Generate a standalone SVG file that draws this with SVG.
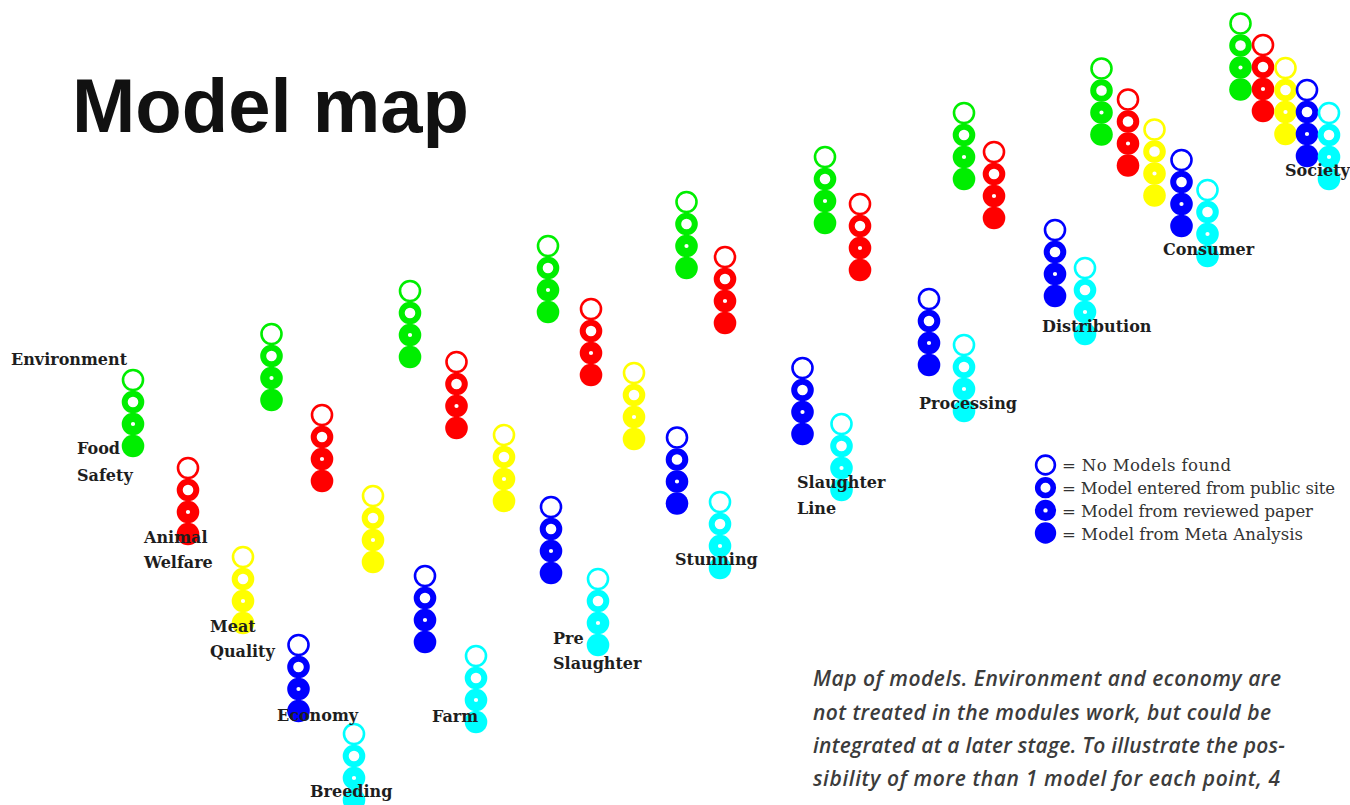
<svg xmlns="http://www.w3.org/2000/svg" xmlns:xlink="http://www.w3.org/1999/xlink" width="1350" height="805" viewBox="0 0 1350 805">
<style>
.lbl{font-family:"DejaVu Serif","Liberation Serif",serif;font-weight:bold;font-size:16px;fill:#1e1e1e}
.leg{font-family:"DejaVu Serif","Liberation Serif",serif;font-size:16.5px;fill:#333}
.title{font-family:"Liberation Sans",Arial,sans-serif;font-weight:bold;font-size:76px;fill:#111}
.cap{font-family:"Open Sans","Liberation Sans",sans-serif;font-style:italic;font-weight:600;font-size:21px;fill:#3c3c3c}
.g{color:#00ee00}.r{color:#ff0000}.y{color:#ffff00}.b{color:#0000ff}.c{color:#00ffff}
</style>
<defs>
<g id="col">
<circle cx="0" cy="0" r="10" fill="none" stroke="currentColor" stroke-width="2.6"/>
<circle cx="0" cy="22" r="8.3" fill="none" stroke="currentColor" stroke-width="6"/>
<circle cx="0" cy="44" r="6.7" fill="none" stroke="currentColor" stroke-width="9.2"/>
<circle cx="0" cy="66" r="11.3" fill="currentColor"/>
</g>
</defs>
<rect width="1350" height="805" fill="#fff"/>
<text class="title" x="72" y="132">Model map</text>
<g id="columns">
<g id="breeding">
<use id="n-breeding-env" href="#col" class="g" x="133" y="380"/>
<use id="n-breeding-food" href="#col" class="r" x="188" y="468"/>
<use id="n-breeding-welfare" href="#col" class="y" x="243" y="557"/>
<use id="n-breeding-meat" href="#col" class="b" x="298.5" y="645"/>
<use id="n-breeding-econ" href="#col" class="c" x="354" y="734"/>
</g>
<g id="farm">
<use id="n-farm-1" href="#col" class="g" x="271.5" y="334"/>
<use id="n-farm-2" href="#col" class="r" x="322" y="415"/>
<use id="n-farm-3" href="#col" class="y" x="373" y="496"/>
<use id="n-farm-4" href="#col" class="b" x="425" y="576"/>
<use id="n-farm-5" href="#col" class="c" x="476" y="656"/>
</g>
<g id="preslaughter">
<use id="n-pre-1" href="#col" class="g" x="410" y="291"/>
<use id="n-pre-2" href="#col" class="r" x="456.5" y="362"/>
<use id="n-pre-3" href="#col" class="y" x="504" y="435"/>
<use id="n-pre-4" href="#col" class="b" x="551" y="507"/>
<use id="n-pre-5" href="#col" class="c" x="598" y="579"/>
</g>
<g id="stunning">
<use id="n-stun-1" href="#col" class="g" x="548" y="246"/>
<use id="n-stun-2" href="#col" class="r" x="591" y="309"/>
<use id="n-stun-3" href="#col" class="y" x="634" y="373"/>
<use id="n-stun-4" href="#col" class="b" x="677" y="437.5"/>
<use id="n-stun-5" href="#col" class="c" x="720" y="502"/>
</g>
<g id="slaughterline">
<use id="n-sl-1" href="#col" class="g" x="686.5" y="202"/>
<use id="n-sl-2" href="#col" class="r" x="725" y="257"/>
<use id="n-sl-4" href="#col" class="b" x="802.5" y="368"/>
<use id="n-sl-5" href="#col" class="c" x="841.5" y="424"/>
</g>
<g id="processing">
<use id="n-proc-1" href="#col" class="g" x="825" y="157"/>
<use id="n-proc-2" href="#col" class="r" x="860" y="204"/>
<use id="n-proc-4" href="#col" class="b" x="929" y="299"/>
<use id="n-proc-5" href="#col" class="c" x="964" y="345"/>
</g>
<g id="distribution">
<use id="n-dist-1" href="#col" class="g" x="964" y="113"/>
<use id="n-dist-2" href="#col" class="r" x="994" y="152"/>
<use id="n-dist-4" href="#col" class="b" x="1055" y="230"/>
<use id="n-dist-5" href="#col" class="c" x="1085" y="268"/>
</g>
<g id="consumer">
<use id="n-cons-1" href="#col" class="g" x="1101.5" y="68.5"/>
<use id="n-cons-2" href="#col" class="r" x="1128" y="99.5"/>
<use id="n-cons-3" href="#col" class="y" x="1154.5" y="129.5"/>
<use id="n-cons-4" href="#col" class="b" x="1181.5" y="160"/>
<use id="n-cons-5" href="#col" class="c" x="1207.5" y="190"/>
</g>
<g id="society">
<use id="n-soc-1" href="#col" class="g" x="1240.5" y="23.5"/>
<use id="n-soc-2" href="#col" class="r" x="1263" y="45"/>
<use id="n-soc-3" href="#col" class="y" x="1285.5" y="68"/>
<use id="n-soc-4" href="#col" class="b" x="1307" y="90"/>
<use id="n-soc-5" href="#col" class="c" x="1329" y="113"/>
</g>
</g>
<g id="connectors"></g>
<g id="labels">
<text class="lbl" x="11" y="365">Environment</text>
<text class="lbl" x="77" y="454">Food</text>
<text class="lbl" x="77" y="481">Safety</text>
<text class="lbl" x="144" y="543">Animal</text>
<text class="lbl" x="144" y="568">Welfare</text>
<text class="lbl" x="210" y="632">Meat</text>
<text class="lbl" x="210" y="657">Quality</text>
<text class="lbl" x="277" y="721">Economy</text>
<text class="lbl" x="310" y="797">Breeding</text>
<text class="lbl" x="432" y="722">Farm</text>
<text class="lbl" x="553" y="644">Pre</text>
<text class="lbl" x="553" y="669">Slaughter</text>
<text class="lbl" x="675" y="565">Stunning</text>
<text class="lbl" x="797" y="488">Slaughter</text>
<text class="lbl" x="797" y="514">Line</text>
<text class="lbl" x="919" y="409">Processing</text>
<text class="lbl" x="1042" y="332">Distribution</text>
<text class="lbl" x="1163" y="255">Consumer</text>
<text class="lbl" x="1285" y="176">Society</text>
</g>
<g id="legend" class="b">
<circle cx="1045.5" cy="465" r="9.4" fill="none" stroke="currentColor" stroke-width="2.6"/>
<circle cx="1045.5" cy="487.7" r="7.8" fill="none" stroke="currentColor" stroke-width="5.6"/>
<circle cx="1045.5" cy="510.4" r="6.4" fill="none" stroke="currentColor" stroke-width="8.4"/>
<circle cx="1045.5" cy="533" r="10.7" fill="currentColor"/>
<text class="leg" x="1062" y="471" textLength="169">= No Models found</text>
<text class="leg" x="1062" y="494" textLength="273">= Model entered from public site</text>
<text class="leg" x="1062" y="517" textLength="251">= Model from reviewed paper</text>
<text class="leg" x="1062" y="540" textLength="241">= Model from Meta Analysis</text>
</g>
<g id="caption">
<text class="cap" x="813" y="686" textLength="468">Map of models. Environment and economy are</text>
<text class="cap" x="813" y="720" textLength="458">not treated in the modules work, but could be</text>
<text class="cap" x="813" y="753" textLength="472">integrated at a later stage. To illustrate the pos-</text>
<text class="cap" x="813" y="786" textLength="467">sibility of more than 1 model for each point, 4</text>
</g>
</svg>
